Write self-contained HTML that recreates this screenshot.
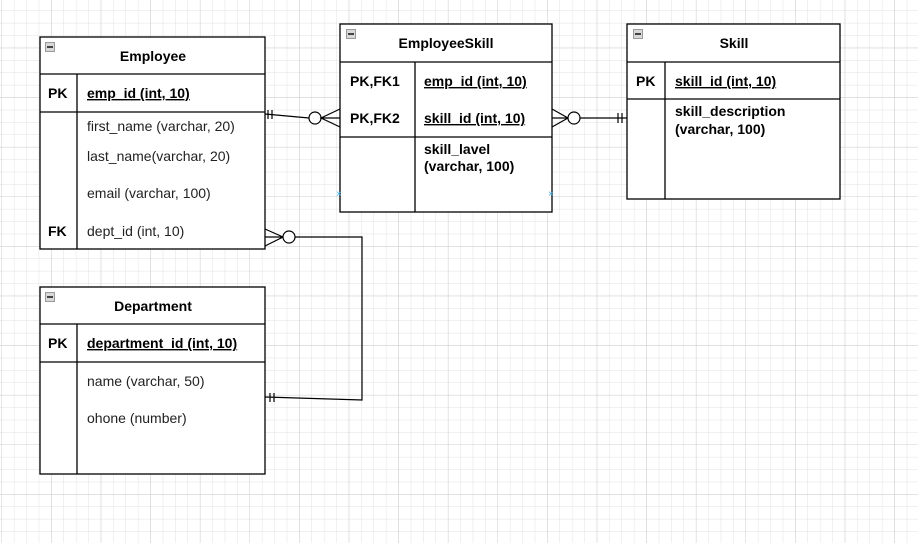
<!DOCTYPE html>
<html><head><meta charset="utf-8"><style>
body{margin:0;width:918px;height:543px;overflow:hidden;background:#fff;font-family:"Liberation Sans",Arial,sans-serif}
</style></head><body>
<svg width="918" height="543" xmlns="http://www.w3.org/2000/svg" font-family="Liberation Sans, Arial, sans-serif" font-size="14">
<defs>
<pattern id="g" x="2" y="-1.4" width="12.4" height="12.4" patternUnits="userSpaceOnUse"><path d="M12.4 0V12.4M0 12.4H12.4" stroke="#e2e2e2" stroke-width="1" fill="none"/></pattern>
<pattern id="G" x="2" y="-1.4" width="49.6" height="49.6" patternUnits="userSpaceOnUse"><path d="M49.6 0V49.6M0 49.6H49.6" stroke="#cfcfcf" stroke-width="1" fill="none"/></pattern>
<g id="mini"><rect x="0" y="0" width="10" height="10" fill="#9a9a9a"/><rect x="1" y="1" width="8" height="8" fill="#d8d8d8"/><rect x="2" y="4" width="6" height="2" fill="#444"/></g>
</defs>
<rect width="918" height="543" fill="url(#g)"/>
<rect width="918" height="543" fill="url(#G)"/>
<g stroke="#000" stroke-width="1.3" fill="#fff">
<rect x="40" y="37" width="225" height="212"/>
<line x1="40" y1="74" x2="265" y2="74"/><line x1="40" y1="112" x2="265" y2="112"/><line x1="77" y1="74" x2="77" y2="249"/>
<rect x="340" y="24" width="212" height="188"/>
<line x1="340" y1="62" x2="552" y2="62"/><line x1="340" y1="137" x2="552" y2="137"/><line x1="415" y1="62" x2="415" y2="212"/>
<rect x="627" y="24" width="213" height="175"/>
<line x1="627" y1="62" x2="840" y2="62"/><line x1="627" y1="99" x2="840" y2="99"/><line x1="665" y1="62" x2="665" y2="199"/>
<rect x="40" y="287" width="225" height="187"/>
<line x1="40" y1="324" x2="265" y2="324"/><line x1="40" y1="362" x2="265" y2="362"/><line x1="77" y1="324" x2="77" y2="474"/>
</g>
<use href="#mini" x="45" y="42"/><use href="#mini" x="346" y="29"/><use href="#mini" x="633" y="29"/><use href="#mini" x="45" y="292"/>
<g font-weight="bold" text-anchor="middle" font-size="14">
<text x="153" y="61">Employee</text><text x="446" y="48">EmployeeSkill</text><text x="734" y="48">Skill</text><text x="153" y="311">Department</text>
</g>
<g font-weight="bold">
<text x="48" y="98">PK</text><text x="48" y="236">FK</text>
<text x="350" y="86">PK,FK1</text><text x="350" y="123">PK,FK2</text>
<text x="636" y="86">PK</text><text x="48" y="348">PK</text>
<text x="87" y="98" text-decoration="underline">emp_id (int, 10)</text>
<text x="424" y="86" text-decoration="underline">emp_id (int, 10)</text>
<text x="424" y="123" text-decoration="underline">skill_id (int, 10)</text>
<text x="424" y="154">skill_lavel</text><text x="424" y="171">(varchar, 100)</text>
<text x="675" y="116" >skill_description</text><text x="675" y="134">(varchar, 100)</text>
<text x="675" y="86" text-decoration="underline">skill_id (int, 10)</text>
<text x="87" y="348" text-decoration="underline">department_id (int, 10)</text>
</g>
<g fill="#222">
<text x="87" y="131">first_name (varchar, 20)</text>
<text x="87" y="161">last_name(varchar, 20)</text>
<text x="87" y="198">email (varchar, 100)</text>
<text x="87" y="236">dept_id (int, 10)</text>
<text x="87" y="386">name (varchar, 50)</text>
<text x="87" y="423">ohone (number)</text>
</g>
<g stroke="#000" stroke-width="1.2" fill="none">
<path d="M265 114 L309 118"/><path d="M268 110V119M272 110V119"/>
<circle cx="315" cy="118" r="6" fill="#fff"/><path d="M340 109L321 118L340 127M321 118H340"/>
<path d="M552 109L568 118L552 127M552 118H568"/><circle cx="574" cy="118" r="6" fill="#fff"/>
<path d="M580 118H627M618 113V123M622 113V123"/>
<path d="M265 229L283 237L265 246M265 237H283"/><circle cx="289" cy="237" r="6" fill="#fff"/>
<path d="M295 237H362V400L265 397M270 393V402M274 393V402"/>
</g>
<g fill="#3cb4ec" font-size="10"><text x="336" y="197">×</text><text x="548" y="197">×</text></g>
</svg>
</body></html>
